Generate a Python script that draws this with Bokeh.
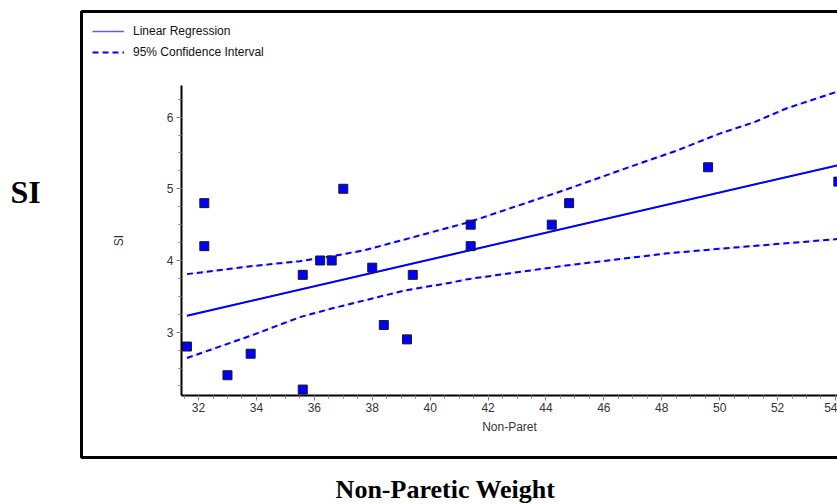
from bokeh.plotting import figure
from bokeh.models import (Range1d, LinearAxis, SingleIntervalTicker, BoxAnnotation,
                          Label, Legend, LegendItem, ColumnDataSource)
from bokeh.embed import file_html
from bokeh.resources import INLINE

# ---- data ----
weight = [31.6, 32.2, 32.2, 33.0, 33.8, 35.6, 35.6, 36.2, 36.6, 37.0,
          38.0, 38.4, 39.2, 39.4, 41.4, 41.4, 44.2, 44.8, 49.6, 54.1]
si = [2.8, 4.8, 4.2, 2.4, 2.7, 3.8, 2.2, 4.0, 4.0, 5.0,
      3.9, 3.1, 2.9, 3.8, 4.5, 4.2, 4.5, 4.8, 5.3, 5.1]

fit_x = [31.6, 54.1]
fit_y = [3.23, 5.33]

upper_x = [31.6, 33.8, 35.5, 36.6, 37.7, 39.0, 41.3, 44.7, 47.0, 48.5, 50.0, 51.2, 52.3, 53.5, 54.1]
upper_y = [3.81, 3.92, 3.99, 4.06, 4.14, 4.28, 4.53, 4.99, 5.32, 5.53, 5.77, 5.93, 6.12, 6.28, 6.36]

lower_x = [31.6, 33.8, 35.5, 36.6, 37.7, 39.1, 40.7, 41.3, 44.7, 48.2, 50.5, 54.1]
lower_y = [2.64, 2.95, 3.21, 3.33, 3.44, 3.58, 3.69, 3.74, 3.93, 4.10, 4.18, 4.30]

x_axis_title = "Non-Paret"
y_axis_title = "SI"
outer_y_title = "SI"
outer_x_title = "Non-Paretic Weight"
legend_labels = ["Linear Regression", "95% Confidence Interval"]

BLUE = "#0000ff"
BEIGE = "#ece9d8"
SMALL_FONT = "Liberation Sans"

p = figure(width=837, height=504,
           x_range=Range1d(25.16, 54.07), y_range=Range1d(0.597, 7.626),
           x_axis_type=None, y_axis_type=None,
           toolbar_location=None, output_backend="svg", min_border=0)
p.outline_line_color = None
p.background_fill_color = "white"
p.border_fill_color = "white"

# outer frame box
p.add_layout(BoxAnnotation(left=81, right=900, top=493, bottom=47,
                           left_units="screen", right_units="screen",
                           top_units="screen", bottom_units="screen",
                           fill_alpha=0, fill_color=None,
                           line_color="black", line_alpha=1.0, line_width=3))

# axes
def style_axis(ax):
    ax.axis_line_color = "black"
    ax.axis_line_width = 2
    ax.major_tick_out = 5
    ax.major_tick_in = 0
    ax.minor_tick_out = 3
    ax.minor_tick_in = 0
    ax.major_tick_line_color = "#808080"
    ax.minor_tick_line_color = "#808080"
    ax.major_label_text_font = SMALL_FONT
    ax.major_label_text_font_size = "12px"
    ax.major_label_text_color = "#333333"
    ax.axis_label_text_font = SMALL_FONT
    ax.axis_label_text_font_size = "12px"
    ax.axis_label_text_font_style = "normal"
    ax.axis_label_text_color = "#333333"
    ax.major_label_standoff = 3

xaxis = LinearAxis(fixed_location=2.12, bounds=(31.41, 54.07),
                   ticker=SingleIntervalTicker(interval=2, num_minor_ticks=4),
                   axis_label=x_axis_title)
style_axis(xaxis)
xaxis.axis_label_standoff = 4
p.add_layout(xaxis, "below")

yaxis = LinearAxis(fixed_location=31.41, bounds=(2.12, 6.446),
                   ticker=SingleIntervalTicker(interval=1, num_minor_ticks=4),
                   axis_label=y_axis_title)
style_axis(yaxis)
yaxis.axis_label_standoff = 38
p.add_layout(yaxis, "left")

# confidence bands: beige base + blue dashes
ci_renderers = []
for xs, ys in ((upper_x, upper_y), (lower_x, lower_y)):
    p.line(xs, ys, line_color=BEIGE, line_width=2.5)
    ci_renderers.append(p.line(xs, ys, line_color=BLUE, line_width=2, line_dash="6 4"))

# regression line: thin line underneath (used as legend sample) + main line
reg_thin = p.line(fit_x, fit_y, line_color="#5c5cff", line_width=1.5)
p.line(fit_x, fit_y, line_color=BLUE, line_width=2)

# points
src = ColumnDataSource(dict(x=weight, y=si))
p.scatter("x", "y", source=src, marker="square", size=9,
          fill_color=BLUE, line_color="#1a1a1a", line_width=1)

legend = Legend(items=[LegendItem(label=legend_labels[0], renderers=[reg_thin]),
                       LegendItem(label=legend_labels[1], renderers=[ci_renderers[0]])],
                location=(92, 442), padding=0, margin=0, spacing=1,
                glyph_width=32, glyph_height=20, label_standoff=9,
                label_text_font=SMALL_FONT, label_text_font_size="12px",
                label_text_color="#111111", label_height=20,
                border_line_color=None, background_fill_alpha=0)
p.add_layout(legend)

# large outer titles
p.add_layout(Label(x=10, y=313, x_units="screen", y_units="screen",
                   text=outer_y_title, text_font="Liberation Serif",
                   text_font_style="bold", text_font_size="32px",
                   text_color="black", text_baseline="alphabetic"))
p.add_layout(Label(x=445, y=15, x_units="screen", y_units="screen",
                   text=outer_x_title, text_font="Liberation Serif",
                   text_font_style="bold", text_font_size="26px",
                   text_color="black", text_align="center",
                   text_baseline="alphabetic"))

open("out.html", "w").write(file_html(p, INLINE))
